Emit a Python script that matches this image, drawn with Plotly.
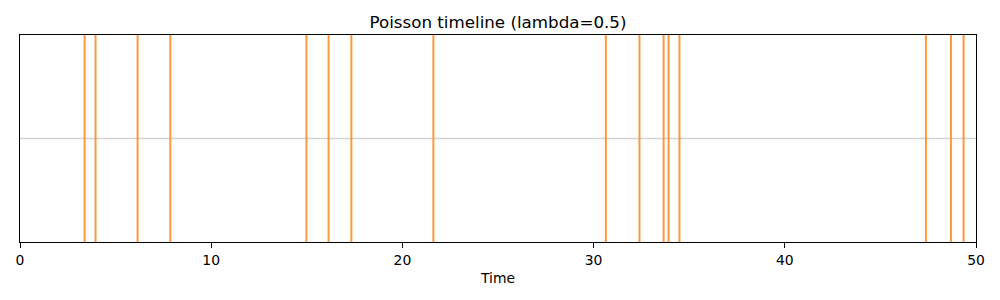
import plotly.graph_objects as go

event_times = [3.38, 3.95, 6.15, 7.86, 14.98, 16.14, 17.33, 21.62,
               30.64, 32.40, 33.66, 33.92, 34.49, 47.38, 48.69, 49.35]
x_ticks = [0, 10, 20, 30, 40, 50]
title_text = "Poisson timeline (lambda=0.5)"
x_label = "Time"
t_max = 50

xs, ys = [], []
for t in event_times:
    xs += [t, t, None]
    ys += [0, 1, None]

fig = go.Figure()
fig.add_trace(go.Scatter(x=[0, t_max], y=[0.5, 0.5], mode="lines",
                         line=dict(color="rgba(211,211,211,1)", width=1.4),
                         hoverinfo="skip", showlegend=False))
fig.add_trace(go.Scatter(x=xs, y=ys, mode="lines",
                         line=dict(color="rgba(255,127,14,0.8)", width=2),
                         showlegend=False))

font = "DejaVu Sans"
fig.update_layout(
    width=1000, height=300,
    margin=dict(l=20, r=24, t=35, b=58),
    paper_bgcolor="white", plot_bgcolor="white",
    title=dict(text=title_text, x=0.498, xanchor="center", y=1 - 22 / 300,
               yref="container", yanchor="middle",
               font=dict(family=font, size=16.7, color="black")),
    xaxis=dict(range=[0, t_max], tickvals=x_ticks, ticktext=[str(v) for v in x_ticks],
               ticks="outside", ticklen=5, tickwidth=1, tickcolor="black",
               showline=True, linecolor="black", linewidth=1, mirror=True,
               showgrid=False, zeroline=False,
               tickfont=dict(family=font, size=13.9, color="black"),
               title=dict(text=x_label, font=dict(family=font, size=13.9, color="black"),
                          standoff=6)),
    yaxis=dict(range=[0, 1], showticklabels=False, ticks="",
               showline=True, linecolor="black", linewidth=1, mirror=True,
               showgrid=False, zeroline=False),
)
fig.write_html("out.html")
